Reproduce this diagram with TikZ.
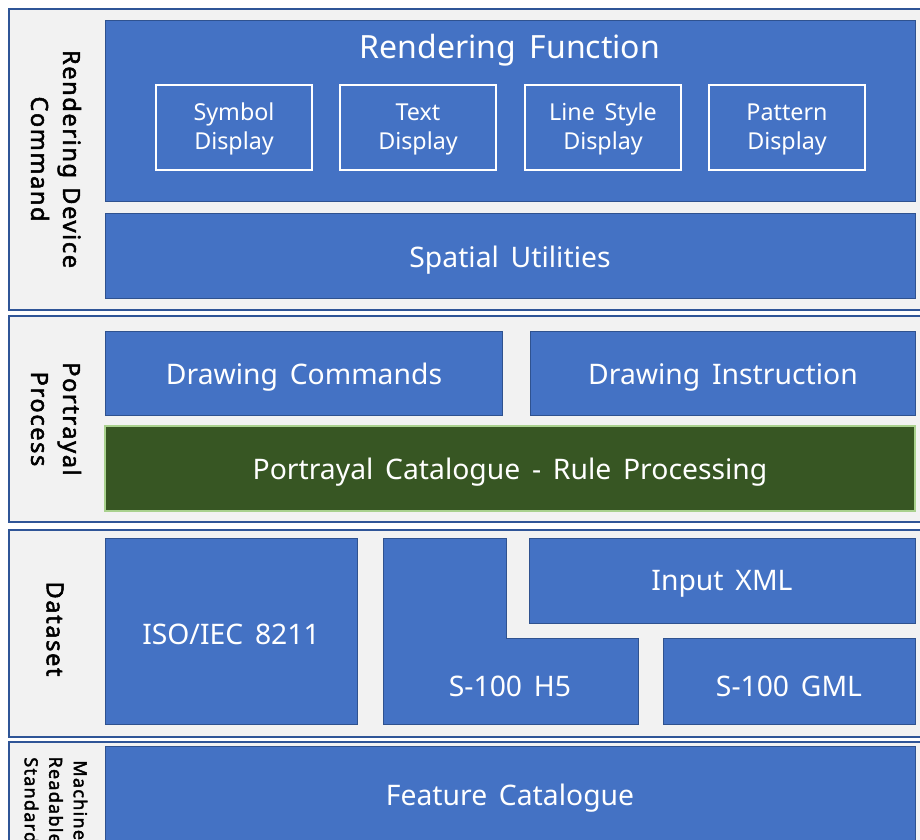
\documentclass[tikz,border=0pt]{standalone}
\usepackage{fontspec}
\setmainfont{Noto Sans}[WordSpace=1.6]
\newfontfamily\sidefont{Noto Sans}[FakeBold=2.2, WordSpace=1.2, LetterSpace=7]
\definecolor{boxblue}{HTML}{4472C4}
\definecolor{boxedge}{HTML}{2F528F}
\definecolor{panelfill}{HTML}{F2F2F2}
\definecolor{paneledge}{HTML}{2F5597}
\definecolor{rulegreen}{HTML}{375623}
\definecolor{ruleedge}{HTML}{A9D18E}
\begin{document}
\begin{tikzpicture}[x=1pt,y=-1pt,
  panel/.style={fill=panelfill,draw=paneledge,line width=1.6pt},
  bluebox/.style={fill=boxblue,draw=boxedge,line width=1pt},
  greenbox/.style={fill=rulegreen,draw=ruleedge,line width=1.4pt},
  inner/.style={draw=white,line width=2pt},
  bigtxt/.style={text=white,font=\fontsize{28.3}{32}\selectfont},
  hugetxt/.style={text=white,font=\fontsize{32}{36}\selectfont},
  smalltxt/.style={text=white,font=\fontsize{23.3}{29}\selectfont,align=center},
  sidetxt/.style={text=black,font=\sidefont\fontsize{23.5}{32}\selectfont,align=center,rotate=-90},
  tinyside/.style={text=black,font=\sidefont\fontsize{18}{24.5}\selectfont,align=center,rotate=-90}]
\useasboundingbox (0,0) rectangle (920,839);
\clip (0,0) rectangle (920,839);
\fill[white] (0,0) rectangle (920,839);
% panels
\draw[panel] (9,9) rectangle (930,310);
\draw[panel] (9,316) rectangle (930,522);
\draw[panel] (9,530) rectangle (930,737);
\draw[panel] (9,742) rectangle (930,860);
% rendering device command
\draw[bluebox] (105,20) rectangle (915,201);
\node[hugetxt] (rf) at (510,50) {Rendering Function};
\draw[inner] (156,85) rectangle (312,170);
\node[smalltxt] (sd) at (234,129) {Symbol\\Display};
\draw[inner] (340,85) rectangle (496,170);
\node[smalltxt] (td) at (418,129) {Text\\Display};
\draw[inner] (525,85) rectangle (681,170);
\node[smalltxt] (ld) at (603,129) {Line Style\\Display};
\draw[inner] (709,85) rectangle (865,170);
\node[smalltxt] (pd) at (787,129) {Pattern\\Display};
\draw[bluebox] (105,213) rectangle (915,298);
\node[bigtxt] (su) at (510,260) {Spatial Utilities};
% portrayal process
\draw[bluebox] (105,331) rectangle (502,415);
\node[bigtxt] (dc) at (304,377) {Drawing Commands};
\draw[bluebox] (530,331) rectangle (915,415);
\node[bigtxt] (di) at (723,377) {Drawing Instruction};
\draw[greenbox] (105,426) rectangle (915,511);
\node[bigtxt] (pc) at (510,472) {Portrayal Catalogue - Rule Processing};
% dataset
\draw[bluebox] (105,538) rectangle (357,724);
\node[bigtxt] (iso) at (231,634) {ISO/IEC 8211};
\draw[bluebox] (383,538) -- (506,538) -- (506,638) -- (638,638) -- (638,724) -- (383,724) -- cycle;
\node[bigtxt] (h5) at (510,686) {S-100 H5};
\draw[bluebox] (529,538) rectangle (915,623);
\node[bigtxt] (xml) at (722,584) {Input XML};
\draw[bluebox] (663,638) rectangle (915,724);
\node[bigtxt] (gml) at (789,686) {S-100 GML};
% machine readable
\draw[bluebox] (105,746) rectangle (915,870);
\node[bigtxt] (fc) at (510,798) {Feature Catalogue};
% side labels
\node[sidetxt] (l1) at (56,159) {Rendering Device\\Command};
\node[sidetxt] (l2) at (56,419) {Portrayal\\Process};
\node[sidetxt] (l3) at (55,629) {Dataset};
\node[tinyside,anchor=west] (l4) at (56,753) {Machine\\Readable\\Standard};
\end{tikzpicture}
\end{document}
